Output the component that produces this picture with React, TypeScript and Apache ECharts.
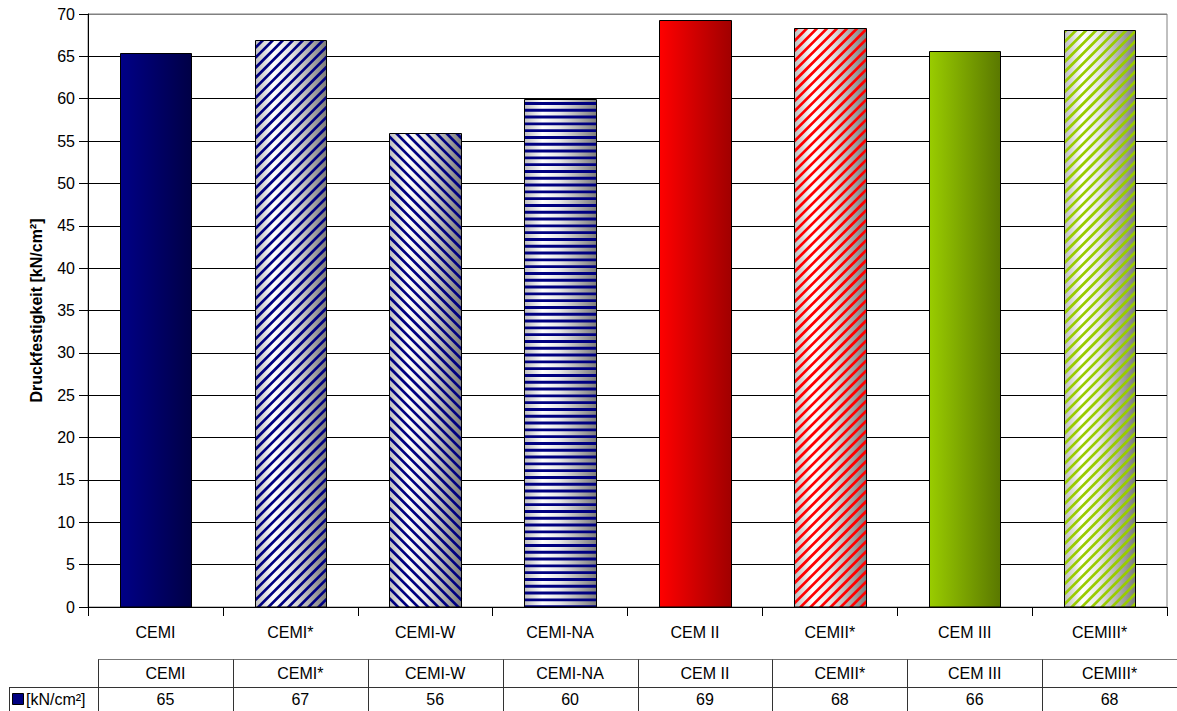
import React, { useEffect, useRef } from "react";
import * as echarts from "echarts";

// Cement types and their compressive strength
const categories = ["CEMI", "CEMI*", "CEMI-W", "CEMI-NA", "CEM II", "CEMII*", "CEM III", "CEMIII*"];
const strength = [65.4, 66.9, 55.9, 60.0, 69.3, 68.4, 65.6, 68.1];
const yTicks = { min: 0, max: 70, interval: 5 };
const unitLabel = "[kN/cm²]";
const axisTitle = "Druckfestigkeit [kN/cm²]";

const FONT = "'Liberation Sans', Arial, sans-serif";
const FS = 16;
const W = 1177;
const H = 711;
const GRID_LEFT = 88;
const GRID_TOP = 14;
const GRID_W = 1079;
const GRID_H = 593;
const BAR_SHARE = 0.53;

type Fill = "solid" | "up" | "down" | "flat";
const palette: Record<string, { light: string; dark: string; line: string }> = {
  navy: { light: "#000086", dark: "#000046", line: "#000080" },
  red: { light: "#ff0000", dark: "#a00000", line: "#ff0000" },
  green: { light: "#99cc00", dark: "#5a7800", line: "#99cc00" },
};
const barLook: { fill: Fill; color: string }[] = [
  { fill: "solid", color: "navy" },
  { fill: "up", color: "navy" },
  { fill: "down", color: "navy" },
  { fill: "flat", color: "navy" },
  { fill: "solid", color: "red" },
  { fill: "up", color: "red" },
  { fill: "solid", color: "green" },
  { fill: "up", color: "green" },
];

function hGrad(stops: [number, string][]) {
  return {
    type: "linear",
    x: 0,
    y: 0,
    x2: 1,
    y2: 0,
    global: false,
    colorStops: stops.map(([offset, color]) => ({ offset, color })),
  };
}

const silverStops: [number, string][] = [
  [0, "#bdbdbd"],
  [0.25, "#ffffff"],
  [0.5, "#e4e4e4"],
  [1, "#7c7c7c"],
];

type Pt = [number, number];

// Clip a convex polygon to the band a <= f(p) <= b
function clipBand(poly: Pt[], f: (p: Pt) => number, a: number, b: number): Pt[] {
  const clipHalf = (pts: Pt[], keep: (v: number) => boolean, edge: number): Pt[] => {
    const out: Pt[] = [];
    for (let i = 0; i < pts.length; i++) {
      const p = pts[i];
      const q = pts[(i + 1) % pts.length];
      const fp = f(p);
      const fq = f(q);
      const inP = keep(fp);
      const inQ = keep(fq);
      if (inP) out.push(p);
      if (inP !== inQ) {
        const t = (edge - fp) / (fq - fp);
        out.push([p[0] + (q[0] - p[0]) * t, p[1] + (q[1] - p[1]) * t]);
      }
    }
    return out;
  };
  let res = clipHalf(poly, (v) => v >= a, a);
  if (res.length < 3) return [];
  res = clipHalf(res, (v) => v <= b, b);
  return res.length >= 3 ? res : [];
}

function stripes(x0: number, y0: number, x1: number, y1: number, kind: Fill, color: string) {
  const rect: Pt[] = [
    [x0, y0],
    [x1, y0],
    [x1, y1],
    [x0, y1],
  ];
  let f: (p: Pt) => number;
  let period: number;
  let thick: number;
  if (kind === "up") {
    f = (p) => p[0] + p[1];
    period = 7.1 * Math.SQRT2;
    thick = 2.7 * Math.SQRT2;
  } else if (kind === "down") {
    f = (p) => p[0] - p[1];
    period = 7.1 * Math.SQRT2;
    thick = 2.7 * Math.SQRT2;
  } else {
    f = (p) => p[1];
    period = 6.8;
    thick = 2.9;
  }
  const vals = rect.map(f);
  const lo = Math.min(...vals);
  const hi = Math.max(...vals);
  const out: any[] = [];
  for (let c = Math.floor(lo / period) * period; c < hi; c += period) {
    const poly = clipBand(rect, f, c, c + thick);
    if (poly.length) {
      out.push({ type: "polygon", shape: { points: poly }, style: { fill: color } });
    }
  }
  return out;
}

function renderBar(params: any, api: any) {
  const idx = params.dataIndex;
  const look = barLook[idx];
  const p = palette[look.color];
  const top = api.coord([api.value(0), api.value(1)]);
  const base = api.coord([api.value(0), 0]);
  const bw = api.size([1, 0])[0] * BAR_SHARE;
  const x0 = Math.round(top[0] - bw / 2) + 0.5;
  const x1 = Math.round(top[0] + bw / 2) + 0.5;
  const y0 = Math.round(top[1]) + 0.5;
  const y1 = base[1];
  const children: any[] = [];
  const solid = look.fill === "solid";
  children.push({
    type: "rect",
    shape: { x: x0, y: y0, width: x1 - x0, height: y1 - y0 },
    style: {
      fill: solid ? hGrad([[0, p.light], [1, p.dark]]) : hGrad(silverStops),
    },
  });
  if (!solid) children.push(...stripes(x0, y0, x1, y1, look.fill, p.line));
  children.push({
    type: "rect",
    shape: { x: x0, y: y0, width: x1 - x0, height: y1 - y0 },
    style: { fill: "none", stroke: "#000", lineWidth: 1 },
  });
  return { type: "group", children };
}

function buildTable() {
  const colW = GRID_W / categories.length;
  const x0 = GRID_LEFT + 10;
  const yTop = 659.5;
  const yMid = 687.5;
  const yBot = H;
  const lineStyle = { stroke: "#333", lineWidth: 1 };
  const font = `${FS}px ${FONT}`;
  const els: any[] = [];
  els.push({ type: "line", shape: { x1: x0, y1: yTop, x2: W, y2: yTop }, style: { stroke: "#777", lineWidth: 1 } });
  els.push({ type: "line", shape: { x1: 9, y1: yMid, x2: W, y2: yMid }, style: lineStyle });
  els.push({ type: "line", shape: { x1: 9.5, y1: yMid, x2: 9.5, y2: yBot }, style: lineStyle });
  for (let k = 0; k <= categories.length; k++) {
    const x = Math.round(x0 + k * colW) + 0.5;
    els.push({ type: "line", shape: { x1: x, y1: yTop, x2: x, y2: yBot }, style: lineStyle });
  }
  categories.forEach((c, k) => {
    const cx = x0 + (k + 0.5) * colW;
    els.push({
      type: "text",
      x: cx,
      y: (yTop + yMid) / 2,
      style: { text: c, font, fill: "#000", align: "center", verticalAlign: "middle" },
    });
    els.push({
      type: "text",
      x: cx,
      y: (yMid + yBot) / 2 + 0.5,
      style: {
        text: String(Math.round(strength[k])),
        font,
        fill: "#000",
        align: "center",
        verticalAlign: "middle",
      },
    });
  });
  // legend key in the row header
  els.push({
    type: "rect",
    shape: { x: 12.5, y: 693.5, width: 11, height: 11 },
    style: { fill: "#000080", stroke: "#000", lineWidth: 1 },
  });
  els.push({
    type: "text",
    x: 26,
    y: (yMid + yBot) / 2 + 0.5,
    style: { text: unitLabel, font, fill: "#000", align: "left", verticalAlign: "middle" },
  });
  return els;
}

export default function App() {
  const ref = useRef<HTMLDivElement>(null);

  useEffect(() => {
    if (!ref.current) return;
    const chart = echarts.init(ref.current, undefined, { renderer: "svg" });
    const nLines = (yTicks.max - yTicks.min) / yTicks.interval + 1;
    const splitColors: string[] = [];
    for (let i = 0; i < nLines; i++) splitColors.push(i === nLines - 1 ? "#808080" : "#000");
    chart.setOption({
      animation: false,
      backgroundColor: "#fff",
      textStyle: { fontFamily: FONT },
      grid: {
        left: GRID_LEFT,
        top: GRID_TOP,
        width: GRID_W,
        height: GRID_H,
        show: true,
        borderColor: "#808080",
        borderWidth: 1,
        backgroundColor: "#fff",
      },
      xAxis: {
        type: "category",
        data: categories,
        axisLine: { show: true, lineStyle: { color: "#000", width: 1 } },
        axisTick: { show: true, length: 9, lineStyle: { color: "#000" } },
        axisLabel: { color: "#000", fontSize: FS, fontFamily: FONT, margin: 17, interval: 0 },
      },
      yAxis: {
        type: "value",
        min: yTicks.min,
        max: yTicks.max,
        interval: yTicks.interval,
        name: axisTitle,
        nameLocation: "middle",
        nameGap: 44,
        nameTextStyle: { color: "#000", fontSize: FS, fontWeight: "bold", fontFamily: FONT },
        axisLine: { show: true, lineStyle: { color: "#000", width: 1 } },
        axisTick: { show: true, length: 9, lineStyle: { color: "#000" } },
        axisLabel: { color: "#000", fontSize: FS, fontFamily: FONT, margin: 13 },
        splitLine: { show: true, lineStyle: { color: splitColors, width: 1 } },
      },
      series: [
        {
          type: "custom",
          renderItem: renderBar,
          encode: { x: 0, y: 1 },
          data: strength.map((v, i) => [i, v]),
          z: 3,
        },
      ],
      graphic: buildTable(),
    });
    return () => chart.dispose();
  }, []);

  return (
    <div
      ref={ref}
      style={{ position: "absolute", left: 0, top: 0, width: W, height: H }}
    />
  );
}
